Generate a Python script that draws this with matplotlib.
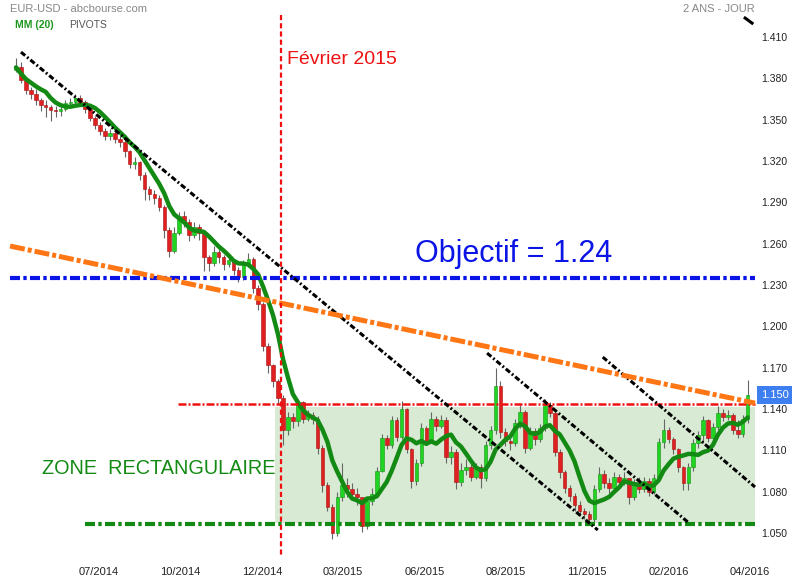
import numpy as np
import pandas as pd
import matplotlib
matplotlib.use("Agg")
import matplotlib.pyplot as plt
from matplotlib.transforms import blended_transform_factory

plt.rcParams['font.family'] = ['Liberation Sans', 'DejaVu Sans']

# EUR-USD, bougies (une bougie ~ 3 jours)
premiere_ouverture = 1.386
cloture = [1.388, 1.379, 1.3715, 1.369, 1.364, 1.361, 1.359, 1.357, 1.356, 1.358,
           1.362, 1.363, 1.366, 1.363, 1.358, 1.351, 1.346, 1.342, 1.338, 1.340,
           1.336, 1.334, 1.327, 1.318, 1.319, 1.310, 1.300, 1.296, 1.293, 1.287,
           1.270, 1.255, 1.268, 1.280, 1.276, 1.266, 1.272, 1.268, 1.250, 1.246,
           1.254, 1.250, 1.245, 1.248, 1.241, 1.236, 1.245, 1.249, 1.228, 1.216,
           1.186, 1.172, 1.160, 1.148, 1.125, 1.134, 1.131, 1.145, 1.133, 1.136,
           1.133, 1.112, 1.085, 1.069, 1.050, 1.076, 1.085, 1.082, 1.078, 1.076,
           1.055, 1.073, 1.078, 1.095, 1.119, 1.114, 1.132, 1.120, 1.140, 1.111,
           1.088, 1.101, 1.126, 1.117, 1.133, 1.128, 1.132, 1.105, 1.109, 1.087,
           1.096, 1.098, 1.091, 1.098, 1.090, 1.114, 1.125, 1.157, 1.123, 1.117,
           1.115, 1.130, 1.138, 1.112, 1.124, 1.118, 1.126, 1.143, 1.137, 1.109,
           1.094, 1.083, 1.077, 1.070, 1.066, 1.064, 1.060, 1.082, 1.093, 1.086,
           1.083, 1.091, 1.087, 1.090, 1.076, 1.086, 1.082, 1.088, 1.080, 1.090,
           1.116, 1.125, 1.118, 1.111, 1.098, 1.086, 1.098, 1.115, 1.121, 1.132,
           1.119, 1.127, 1.137, 1.134, 1.136, 1.125, 1.122, 1.133, 1.150]
haut = [1.395, 1.392, 1.381, 1.374, 1.372, 1.366, 1.364, 1.361, 1.360, 1.361,
        1.364, 1.366, 1.369, 1.368, 1.364, 1.360, 1.353, 1.348, 1.344, 1.343,
        1.342, 1.338, 1.336, 1.328, 1.323, 1.320, 1.312, 1.302, 1.299, 1.295,
        1.288, 1.272, 1.272, 1.283, 1.284, 1.278, 1.276, 1.274, 1.270, 1.252,
        1.258, 1.257, 1.252, 1.251, 1.249, 1.243, 1.248, 1.253, 1.250, 1.230,
        1.218, 1.188, 1.173, 1.162, 1.150, 1.138, 1.137, 1.147, 1.146, 1.139,
        1.138, 1.135, 1.114, 1.087, 1.071, 1.080, 1.101, 1.090, 1.086, 1.083,
        1.066, 1.076, 1.083, 1.098, 1.122, 1.121, 1.135, 1.134, 1.146, 1.141,
        1.112, 1.104, 1.130, 1.128, 1.138, 1.135, 1.136, 1.134, 1.113, 1.111,
        1.101, 1.104, 1.100, 1.101, 1.100, 1.117, 1.128, 1.170, 1.160, 1.126,
        1.122, 1.133, 1.143, 1.139, 1.127, 1.126, 1.129, 1.147, 1.145, 1.138,
        1.111, 1.096, 1.085, 1.079, 1.073, 1.068, 1.066, 1.085, 1.098, 1.096,
        1.090, 1.094, 1.093, 1.094, 1.090, 1.089, 1.091, 1.091, 1.090, 1.093,
        1.119, 1.133, 1.127, 1.120, 1.112, 1.099, 1.101, 1.118, 1.124, 1.135,
        1.133, 1.130, 1.142, 1.140, 1.139, 1.137, 1.132, 1.136, 1.161]
bas = [1.385, 1.377, 1.369, 1.365, 1.361, 1.356, 1.352, 1.349, 1.352, 1.353,
       1.356, 1.359, 1.361, 1.360, 1.355, 1.349, 1.343, 1.339, 1.335, 1.335,
       1.333, 1.330, 1.323, 1.315, 1.314, 1.306, 1.292, 1.292, 1.289, 1.284,
       1.264, 1.250, 1.253, 1.266, 1.272, 1.262, 1.264, 1.263, 1.240, 1.240,
       1.244, 1.246, 1.241, 1.243, 1.237, 1.232, 1.234, 1.243, 1.224, 1.212,
       1.182, 1.166, 1.156, 1.144, 1.114, 1.121, 1.126, 1.128, 1.130, 1.131,
       1.129, 1.107, 1.080, 1.066, 1.046, 1.048, 1.073, 1.076, 1.074, 1.070,
       1.051, 1.053, 1.070, 1.076, 1.094, 1.111, 1.112, 1.117, 1.118, 1.108,
       1.083, 1.085, 1.099, 1.114, 1.115, 1.124, 1.126, 1.101, 1.100, 1.082,
       1.084, 1.092, 1.088, 1.089, 1.083, 1.088, 1.111, 1.122, 1.119, 1.113,
       1.110, 1.113, 1.126, 1.108, 1.110, 1.114, 1.116, 1.124, 1.134, 1.106,
       1.090, 1.079, 1.073, 1.066, 1.062, 1.060, 1.056, 1.057, 1.080, 1.083,
       1.079, 1.081, 1.083, 1.085, 1.071, 1.074, 1.079, 1.080, 1.077, 1.078,
       1.088, 1.112, 1.115, 1.107, 1.094, 1.081, 1.081, 1.095, 1.112, 1.115,
       1.116, 1.116, 1.125, 1.131, 1.132, 1.122, 1.119, 1.120, 1.130]

mois = ['07/2014', '10/2014', '12/2014', '03/2015', '06/2015',
        '08/2015', '11/2015', '02/2016', '04/2016']
niveaux = [1.050, 1.080, 1.110, 1.140, 1.170, 1.200, 1.230, 1.260,
           1.290, 1.320, 1.350, 1.380, 1.410]

# traces de l'analyse : (indices de bougie, cours)
oblique_1 = ([1.0, 117.7], [1.3991, 1.0522])
oblique_2 = ([95.3, 135.9], [1.1806, 1.0580])
oblique_3 = ([118.7, 149.5], [1.1777, 1.0834])
oblique_orange = ([-1.2, 149.5], [1.2583, 1.1443])
objectif = 1.2354
resistance = 1.1434
support = 1.0569
zone = (52.4, 149.5, 1.0575, 1.1412)
fevrier_2015 = 53.6

fig = plt.figure(figsize=(8, 5.8), dpi=100)
ax = fig.add_axes([0, 23 / 580, 757 / 800, 557 / 580])
ax.set_xlim(-3.24, 149.9)
ax.set_ylim(1.0326, 1.4369)

cl = np.array(cloture)
ouv = np.r_[premiere_ouverture, cl[:-1]]
idx = np.arange(len(cl))
hausse = cl >= ouv

# zone rectangulaire
ax.fill_between([zone[0], zone[1]], zone[2], zone[3], color='#d8ead4', lw=0, zorder=0)

# bougies
ax.vlines(idx, bas, haut, color='#666666', lw=0.8, zorder=3)
ax.bar(idx[hausse], (cl - ouv)[hausse], bottom=ouv[hausse], width=0.72,
       color='#22d422', edgecolor='#149414', lw=0.4, zorder=4)
ax.bar(idx[~hausse], (cl - ouv)[~hausse], bottom=ouv[~hausse], width=0.72,
       color='#e02020', edgecolor='#a81010', lw=0.4, zorder=4)

# MM(20)
mm = pd.Series(cl).rolling(7, min_periods=1).mean()
ax.plot(idx, mm, color='#138a13', lw=3.2, zorder=5, solid_capstyle='round')

# horizontales
ax.plot([-1.2, 149.5], [objectif, objectif], color='#0a14e6', lw=3,
        ls=(0, (2.4, 0.8, 0.8, 0.8)), zorder=6)
ax.plot([32.8, 149.5], [resistance, resistance], color='#ee1111', lw=1.8,
        ls=(0, (3.2, 0.8, 0.8, 0.8)), zorder=6)
ax.plot([14.0, 149.5], [support, support], color='#138a13', lw=3,
        ls=(0, (2.4, 0.8, 0.8, 0.8)), zorder=6)

# obliques
for xs, ys in (oblique_1, oblique_2, oblique_3):
    ax.plot(xs, ys, color='black', lw=2.2, ls=(0, (1.8, 0.8, 0.6, 0.8)), zorder=7)
ax.plot(*oblique_orange, color='#ff7614', lw=3.6, ls=(0, (3.0, 0.6, 0.8, 0.6)), zorder=7)
ax.plot([147.5, 148.9], [1.4238, 1.4201], color='black', lw=2.2, zorder=7)

# fevrier 2015
ax.plot([fevrier_2015, fevrier_2015], [1.4261, 1.0326], color='#ee1111', lw=1.6,
        ls=(0, (2.3, 1.4)), zorder=8, clip_on=False)

# axes
for s in ax.spines.values():
    s.set_visible(False)
ax.yaxis.tick_right()
ax.set_yticks(niveaux)
ax.set_yticklabels(['%.3f' % v for v in niveaux])
ax.set_xticks(np.linspace(16.8, 148.5, len(mois)))
ax.set_xticklabels(mois)
ax.tick_params(axis='x', length=0, pad=7, labelsize=8, colors='#222222')
ax.tick_params(axis='y', length=0, pad=3, labelsize=7.5, colors='#222222')

# dernier cours
tr = blended_transform_factory(ax.transAxes, ax.transData)
ax.text(1.005, cl[-1], '%.3f' % cl[-1], transform=tr, va='center', ha='left',
        fontsize=8, color='white', zorder=10,
        bbox=dict(boxstyle='square,pad=0.35', fc='#3d7ef0', ec='none'))

# textes
fig.text(10 / 800, 1 - 9 / 580, 'EUR-USD - abcbourse.com', fontsize=8,
         color='#888888', va='center')
fig.text(15 / 800, 1 - 25 / 580, 'MM (20)', fontsize=7.5, color='#1e961e',
         va='center', fontweight='bold')
fig.text(69 / 800, 1 - 25 / 580, 'PIVOTS', fontsize=7.5, color='#555555', va='center')
fig.text(755 / 800, 1 - 9 / 580, '2 ANS - JOUR', fontsize=8, color='#888888',
         va='center', ha='right')
fig.text(287 / 800, 1 - 60 / 580, 'Février 2015', fontsize=14, color='#ee1111', va='center')
fig.text(415 / 800, 1 - 254 / 580, 'Objectif = 1.24', fontsize=22, color='#0a14e6', va='center')
fig.text(42 / 800, 1 - 468 / 580, 'ZONE  RECTANGULAIRE', fontsize=14.3,
         color='#138a13', va='center')

fig.savefig('out.png', dpi=100, facecolor='white')
